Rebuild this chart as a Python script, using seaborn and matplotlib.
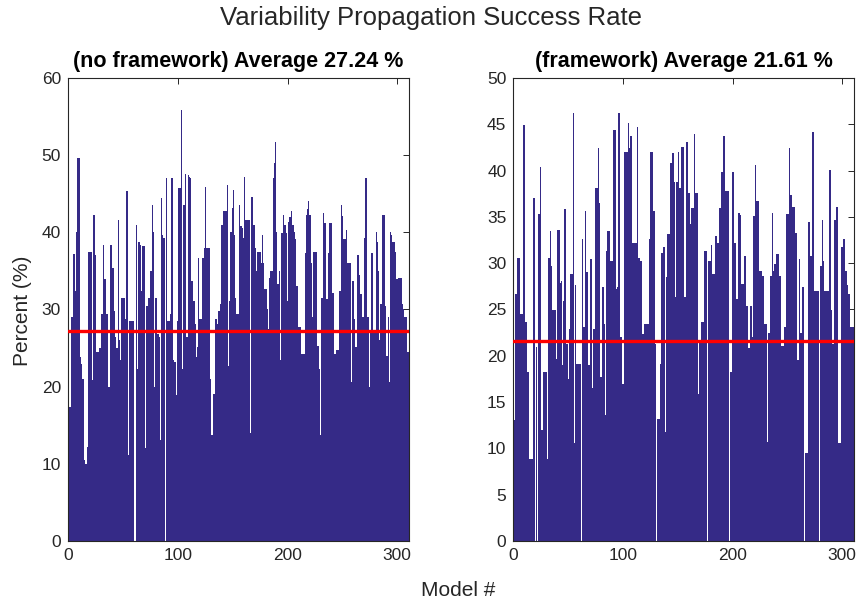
import numpy as np
import matplotlib
matplotlib.use("Agg")
import matplotlib.pyplot as plt
import seaborn as sns

# Success rate (%) per model, without and with the framework
no_framework = [
    17.4, 17.4, 29, 29, 37.2, 37.2, 32.4, 40.1, 49.6, 49.6,
    23.8, 23, 21, 21, 10.5, 10, 10, 12.2, 37.5, 37.5,
    37.5, 20.8, 42.3, 42.3, 37.1, 24.5, 24.5, 24.5, 25, 25,
    29.4, 38.4, 33.9, 33.9, 29.4, 29.4, 20, 20, 38.3, 38.3,
    35.4, 29.8, 26.4, 25, 25, 41.6, 26, 23.4, 31.5, 31.5,
    31.5, 28.8, 45.3, 45.3, 11.2, 28.5, 28.5, 28.5, 28.5, 28.5,
    0, 41, 22.3, 38.8, 38.8, 38.4, 32.4, 38.2, 38.2, 38.2,
    12, 30.5, 31.5, 31.5, 35, 35, 43.6, 40.1, 20, 31.5,
    31.5, 26.8, 26.4, 13.1, 44.4, 39.7, 39.3, 39.3, 0, 47,
    28.5, 28.5, 29.4, 47, 47, 23.4, 23.2, 23.2, 18.9, 28.5,
    45.7, 45.7, 55.8, 22.3, 43.6, 43.6, 47.6, 26.4, 26.4, 47.4,
    47.2, 47, 33.7, 31.1, 31.1, 28.1, 23.8, 25.1, 36.7, 28.8,
    28.8, 28.8, 36.7, 38, 45.9, 38, 38, 38, 38, 21,
    13.7, 13.7, 19.1, 28.8, 28.8, 28.1, 29.8, 29.8, 30.7, 41,
    41, 42.7, 42.7, 42.7, 46.1, 22.7, 31.1, 40.1, 40.1, 43.1,
    45.5, 39.7, 31.5, 29.4, 29.4, 43.6, 40.8, 40.8, 40.6, 39.3,
    47.2, 41.6, 41.6, 41.6, 41.6, 14, 44.6, 44.6, 41, 41,
    38, 35, 37.5, 37.5, 37.5, 36, 39.7, 36, 32.6, 32.6,
    32.6, 30, 27.5, 34.1, 35, 35, 47, 49, 51.7, 40,
    33.3, 33.3, 35, 23.4, 39.9, 42.3, 41, 41, 39.9, 31.1,
    41.4, 42, 42, 42.7, 41, 40, 39.1, 33, 33, 27.7,
    27.7, 27.7, 24.2, 24.2, 24.2, 37.3, 42.3, 43, 44, 42.3,
    42.3, 36, 29, 37.5, 37.5, 37.5, 25.3, 25.3, 22.3, 13.7,
    31.5, 31.5, 42.5, 41.2, 41.2, 31.3, 37.3, 41.2, 41.2, 41.2,
    32.2, 32.2, 24.2, 24.2, 24.7, 24.7, 32.4, 32.4, 43.6, 42.1,
    39.1, 39.1, 39.1, 40.3, 36, 36, 36, 20.6, 33.7, 33.7,
    28.8, 25.1, 25.1, 37.1, 37.1, 34.5, 32, 29, 29, 39.3,
    47, 47, 29, 29, 20, 27.3, 37.3, 27.3, 27.3, 27.3,
    40.1, 38.8, 35, 26, 30.7, 30.7, 42.3, 42.3, 30.5, 24,
    24, 29, 20.6, 40.1, 39.7, 38.8, 38.8, 37.5, 33.9, 33.9,
    34.1, 34.1, 34.1, 34.1, 30.7, 30.1, 29, 29, 24.5, 24.5,
]

with_framework = [
    13.1, 26.7, 26.7, 30.6, 30.6, 30.6, 24.5, 24.5, 44.9, 44.9,
    23.6, 23.6, 18.3, 18.3, 8.9, 8.9, 8.9, 37, 37, 0,
    20.9, 0, 35.3, 35.3, 40.4, 12, 12, 18.3, 18.3, 18.3,
    8.9, 30.6, 30.6, 33.5, 29.7, 24.9, 24.9, 24.9, 19.7, 33.6,
    33.6, 33.6, 27.9, 28.1, 19, 25.9, 35.8, 35.8, 21.3, 17.5,
    22.9, 28.8, 28.8, 28.8, 46.2, 10.6, 27.6, 19.1, 19.1, 19.1,
    19.1, 0, 32.6, 23.1, 23.1, 35.6, 29, 29, 19, 30.4,
    30.4, 16.5, 22.9, 22.9, 38.1, 38.1, 38.1, 42.4, 36.5, 17.7,
    27.4, 27.4, 23.4, 13.6, 31.3, 33.5, 33.5, 33.5, 30.2, 30.2,
    44.4, 44.4, 44.4, 27.2, 27.4, 46.2, 46.2, 22, 22, 17,
    42, 42, 42, 42, 45.1, 42.4, 43.7, 43.7, 32.2, 32.2,
    32.2, 32.2, 44.7, 30.6, 30.6, 30.2, 30.2, 22.4, 22.4, 23.4,
    23.4, 23.4, 23.4, 32.6, 42, 42, 42, 35.6, 35.6, 21.3,
    0, 13.2, 13.2, 19.1, 31.1, 31.1, 31.7, 31.7, 11.8, 28.5,
    33.1, 33.1, 40.8, 40.8, 41.9, 41.9, 38.8, 26.3, 38.8, 38.8,
    42, 38.1, 42.6, 42.6, 42.6, 26.3, 26.3, 43.1, 43.1, 37.6,
    37.6, 34.2, 36, 36, 44, 37.6, 37.6, 37.6, 15.9, 21.7,
    21.7, 23.6, 23.6, 31.3, 31.3, 31.3, 0, 30.2, 30.2, 30.2,
    32, 28.8, 28.8, 32.9, 32.9, 32.2, 32.2, 36, 36, 39.9,
    39.9, 43.7, 43.7, 37.8, 37.8, 37.8, 0, 18.3, 18.3, 39.9,
    39.9, 32.2, 32.2, 26.1, 35.4, 35.4, 35.2, 27.7, 27.7, 27.7,
    30.8, 30.8, 25.4, 25.4, 20.8, 25.4, 25.4, 22, 35.1, 35.1,
    40.6, 36.7, 36.7, 36.7, 29.2, 29.2, 28.6, 28.6, 23.4, 23.4,
    23.4, 10.7, 22.5, 22.5, 28.6, 35.4, 29.2, 29.9, 29.9, 31,
    31, 31, 28.6, 28.6, 21.1, 21.1, 23.1, 23.1, 35.3, 35.3,
    35.3, 42.4, 37.4, 37.4, 36.1, 36.1, 33.3, 33.3, 19.5, 19.5,
    30.4, 22.5, 22.5, 27.4, 27.4, 0, 9.5, 9.5, 34.4, 34.4,
    30.8, 30.8, 44.2, 44.2, 27, 27, 27, 27, 0, 29.7,
    29.7, 34.7, 30.2, 27, 27, 27, 27, 40.1, 40.1, 24.9,
    21.3, 21.3, 34.7, 34.7, 36.1, 36.1, 10.6, 10.6, 31.7, 31.7,
    32.6, 32.6, 29.2, 29.2, 27.6, 26.7, 26.7, 23.1, 23.1, 23.1,
]

panel_labels = ["(no framework)", "(framework)"]
panel_averages = [27.24, 21.61]
panel_ymax = [60, 50]
panel_ystep = [10, 5]
x_ticks = [0, 100, 200, 300]

BAR = "#352a87"
INK = "#262626"

sns.set_style("white")
plt.rcParams["font.family"] = ["Liberation Sans", "DejaVu Sans"]

fig = plt.figure(figsize=(8.61, 6.04), dpi=100)
axes = [
    fig.add_axes([0.0790, 0.1043, 0.3964, 0.7666]),
    fig.add_axes([0.5962, 0.1043, 0.3960, 0.7666]),
]

for ax, values, label, avg, ymax, ystep in zip(
    axes, [no_framework, with_framework], panel_labels, panel_averages, panel_ymax, panel_ystep
):
    models = np.arange(1, len(values) + 1)
    sns.barplot(
        x=models, y=values, native_scale=True, width=1.0, color=BAR,
        saturation=1, linewidth=0, errorbar=None, ax=ax,
    )
    ax.axhline(avg, color="#ff0000", lw=2.4, zorder=5)
    ax.set_xlim(0, 311)
    ax.set_ylim(0, ymax)
    ax.set_xticks(x_ticks)
    ax.set_yticks(np.arange(0, ymax + 0.1, ystep))
    ax.set_xlabel("")
    ax.set_ylabel("")
    ax.tick_params(direction="in", top=True, right=True, length=4, width=0.7,
                   colors=INK, labelsize=12.5, pad=5)
    for s in ax.spines.values():
        s.set_color(INK)
        s.set_linewidth(0.8)
    ax.set_title(f"{label} Average {avg:.2f} %", fontsize=15.5,
                 fontweight="bold", color="black", pad=8)

fig.text(0.5, 0.97, "Variability Propagation Success Rate", ha="center",
         va="center", fontsize=18.5, color=INK)
fig.text(0.5325, 0.022, "Model #", ha="center", va="center", fontsize=15, color=INK)
fig.text(0.0265, 0.485, "Percent (%)", ha="center", va="center", rotation=90,
         fontsize=15, color=INK)

fig.savefig("out.png", dpi=100)
